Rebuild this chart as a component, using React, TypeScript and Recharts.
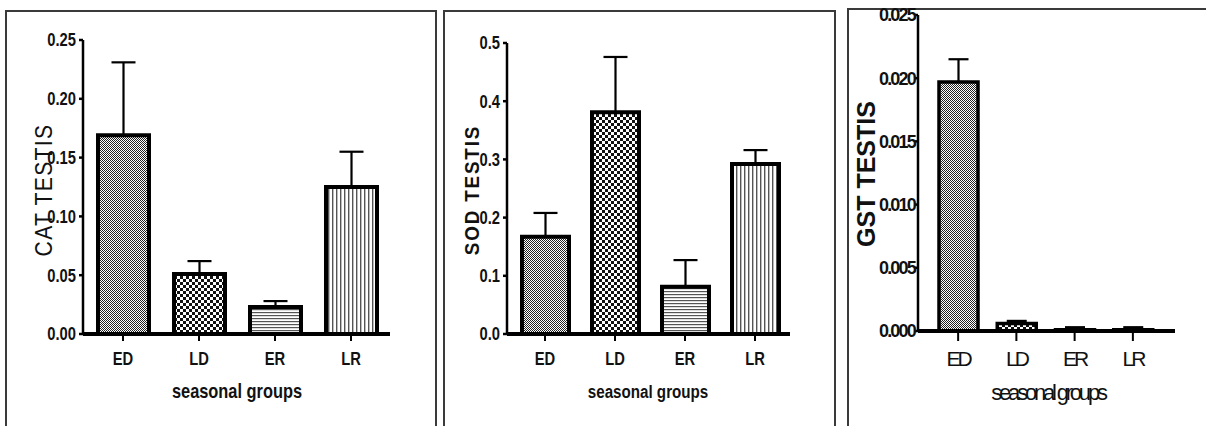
import React from 'react';
import { BarChart, Bar, XAxis, YAxis, ErrorBar, Cell } from 'recharts';

const groups = ['ED', 'LD', 'ER', 'LR'];
const catMeans = [0.169, 0.051, 0.023, 0.125];
const catErrors = [0.062, 0.011, 0.005, 0.030];
const sodMeans = [0.167, 0.381, 0.081, 0.292];
const sodErrors = [0.041, 0.095, 0.046, 0.024];
const gstMeans = [0.0197, 0.0006, 0.0001, 0.0001];
const gstErrors = [0.0018, 0.0002, 0.0002, 0.0002];
const catTicks = [0, 0.05, 0.1, 0.15, 0.2, 0.25];
const sodTicks = [0, 0.1, 0.2, 0.3, 0.4, 0.5];
const gstTicks = [0, 0.005, 0.01, 0.015, 0.02, 0.025];
const patternIds = ['pED', 'pLD', 'pER', 'pLR'];

const build = (means: number[], errs: number[]) =>
  groups.map((g, i) => ({ name: g, v: means[i], err: [0, errs[i]] }));

const catData = build(catMeans, catErrors);
const sodData = build(sodMeans, sodErrors);
const gstData = build(gstMeans, gstErrors);

const SANS = "'Liberation Sans', Arial, sans-serif";

const Title = (p: any) => {
  const { tx, ty, text, rotate, fs, fw, ls, sx = 1 } = p;
  const tf = `translate(${tx} ${ty})${rotate ? ' rotate(-90)' : ''} scale(${sx} 1)`;
  return (
    <text
      x={0}
      y={0}
      transform={tf}
      textAnchor="middle"
      dominantBaseline={rotate ? 'central' : 'auto'}
      fontSize={fs}
      fontWeight={fw}
      fontFamily={SANS}
      letterSpacing={ls}
      fill="#111"
    >
      {text}
    </text>
  );
};

const Tick = (p: any) => {
  const { x, y, payload, anchor, dy, fs, fw, ls = 0, sx = 1, fmt } = p;
  const label = fmt ? fmt(payload.value) : payload.value;
  return (
    <text
      x={0}
      y={0}
      dy={dy}
      transform={`translate(${x} ${y}) scale(${sx} 1)`}
      textAnchor={anchor}
      fontSize={fs}
      fontWeight={fw}
      fontFamily={SANS}
      letterSpacing={ls}
      fill="#111"
    >
      {label}
    </text>
  );
};

const Patterns = () => (
  <svg width={0} height={0} style={{ position: 'absolute' }}>
    <defs>
      <pattern id="pED" width={2} height={2} patternUnits="userSpaceOnUse">
        <rect width={2} height={2} fill="#fff" />
        <rect x={0} y={0} width={1} height={1} fill="#222" />
        <rect x={1} y={1} width={1} height={1} fill="#222" />
      </pattern>
      <pattern id="pLD" width={6} height={6} patternUnits="userSpaceOnUse">
        <rect width={6} height={6} fill="#fff" />
        <rect x={0} y={0} width={3} height={3} fill="#111" />
        <rect x={3} y={3} width={3} height={3} fill="#111" />
      </pattern>
      <pattern id="pER" width={3} height={3} patternUnits="userSpaceOnUse">
        <rect width={3} height={3} fill="#fff" />
        <rect x={0} y={0} width={3} height={1.2} fill="#555" />
      </pattern>
      <pattern id="pLR" width={4} height={4} patternUnits="userSpaceOnUse">
        <rect width={4} height={4} fill="#fff" />
        <rect x={0} y={0} width={1.4} height={4} fill="#555" />
      </pattern>
    </defs>
  </svg>
);

const Panel = (p: any) => {
  const {
    data, ticks, fmt, width, margin, padding, barSize, yTitle, xTitle,
    yTickStyle, xTickStyle, yTickSize, yTickMargin, xTickSize, xTickMargin, capW, barStroke,
  } = p;
  return (
    <BarChart width={width} height={426} data={data} margin={margin}>
      <XAxis
        dataKey="name"
        padding={padding}
        axisLine={{ stroke: '#000', strokeWidth: 4 }}
        tickLine={{ stroke: '#000', strokeWidth: 2 }}
        tickSize={xTickSize}
        tickMargin={xTickMargin}
        tick={<Tick anchor="middle" dy="0.71em" {...xTickStyle} />}
        interval={0}
        height={30}
        label={xTitle}
      />
      <YAxis
        type="number"
        domain={[0, ticks[ticks.length - 1]]}
        ticks={ticks}
        width={60}
        axisLine={{ stroke: '#000', strokeWidth: 2.5 }}
        tickLine={{ stroke: '#000', strokeWidth: 2.5 }}
        tickSize={yTickSize}
        tickMargin={yTickMargin}
        tick={<Tick anchor="end" dy="0.355em" fmt={fmt} {...yTickStyle} />}
        interval={0}
        label={yTitle}
      />
      <Bar dataKey="v" isAnimationActive={false} stroke="#000" strokeWidth={barStroke} barSize={barSize}>
        {data.map((d: any, i: number) => (
          <Cell key={d.name} fill={`url(#${patternIds[i]})`} />
        ))}
        <ErrorBar dataKey="err" width={capW} stroke="#000" strokeWidth={2.2} direction="y" isAnimationActive={false} />
      </Bar>
    </BarChart>
  );
};

const borderStyle = (left: number, top: number, w: number): React.CSSProperties => ({
  position: 'absolute',
  left,
  top,
  width: w,
  height: 600,
  border: '2px solid #3a3a3a',
  boxSizing: 'border-box',
});

export default function App() {
  const narrow = { fs: 18, fw: 700, sx: 0.82 };
  return (
    <div style={{ position: 'absolute', left: 0, top: 0, width: 1206, height: 426, overflow: 'hidden', background: '#fff' }}>
      <Patterns />
      <div style={borderStyle(5, 10, 432)} />
      <div style={borderStyle(443, 10, 393)} />
      <div style={borderStyle(847, 8, 400)} />

      <div style={{ position: 'absolute', left: 0, top: 0 }}>
        <Panel
          data={catData}
          ticks={catTicks}
          fmt={(v: number) => v.toFixed(2)}
          width={436}
          margin={{ top: 40, right: 46, bottom: 62, left: 23 }}
          padding={{ left: 2, right: 1 }}
          barSize={51}
          barStroke={4}
          capW={12}
          yTickStyle={narrow}
          xTickStyle={narrow}
          yTickSize={4}
          yTickMargin={3}
          xTickSize={7}
          xTickMargin={11}
          yTitle={<Title tx={44} ty={190} rotate text="CAT  TESTIS" fs={24} fw={400} ls={1.5} sx={0.88} />}
          xTitle={<Title tx={237} ty={398} text="seasonal groups" fs={20} fw={700} sx={0.82} ls={0} />}
        />
      </div>

      <div style={{ position: 'absolute', left: 440, top: 0 }}>
        <Panel
          data={sodData}
          ticks={sodTicks}
          fmt={(v: number) => v.toFixed(1)}
          width={395}
          margin={{ top: 43, right: 45, bottom: 62, left: 7 }}
          padding={{ left: 3, right: 0 }}
          barSize={47}
          barStroke={4}
          capW={12}
          yTickStyle={narrow}
          xTickStyle={narrow}
          yTickSize={4}
          yTickMargin={3}
          xTickSize={7}
          xTickMargin={11}
          yTitle={<Title tx={32} ty={190} rotate text="SOD  TESTIS" fs={21} fw={700} ls={2} sx={0.9} />}
          xTitle={<Title tx={208} ty={398} text="seasonal groups" fs={18.5} fw={700} sx={0.82} ls={0} />}
        />
      </div>

      <div style={{ position: 'absolute', left: 840, top: 0 }}>
        <Panel
          data={gstData}
          ticks={gstTicks}
          fmt={(v: number) => v.toFixed(3)}
          width={366}
          margin={{ top: 15, right: 31, bottom: 65, left: 18 }}
          padding={{ left: 11, right: 13 }}
          barSize={39}
          barStroke={3.5}
          capW={10}
          yTickStyle={{ fs: 18, fw: 700, ls: -1.8 }}
          xTickStyle={{ fs: 21, fw: 400, ls: -3 }}
          yTickSize={3}
          yTickMargin={0}
          xTickSize={10}
          xTickMargin={10}
          yTitle={<Title tx={26} ty={174} rotate text="GST TESTIS" fs={25} fw={700} ls={0} />}
          xTitle={<Title tx={208} ty={400} text="seasonal groups" fs={22} fw={400} ls={-3.2} />}
        />
      </div>
    </div>
  );
}
